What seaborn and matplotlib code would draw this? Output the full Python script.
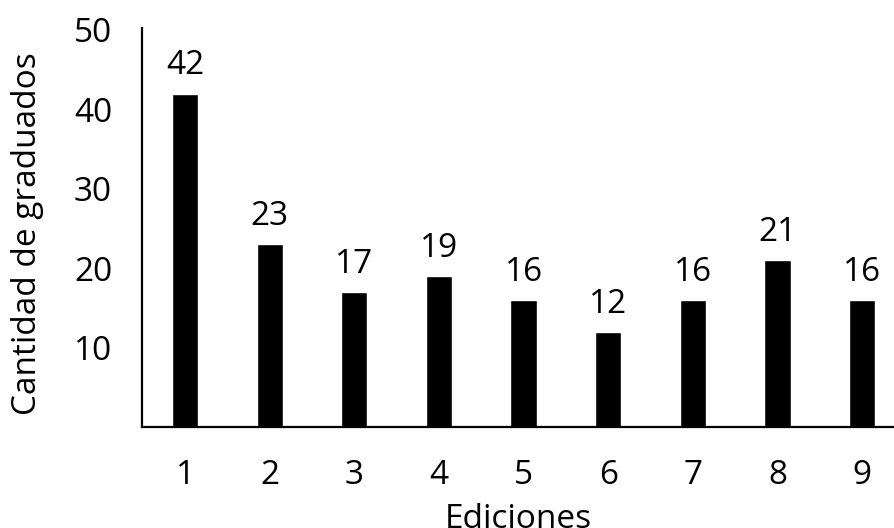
import matplotlib
matplotlib.use("Agg")
import matplotlib.pyplot as plt
import seaborn as sns
import pandas as pd

# Graduates per edition
ediciones = ["1", "2", "3", "4", "5", "6", "7", "8", "9"]
graduados = [42, 23, 17, 19, 16, 12, 16, 21, 16]
y_ticks = [10, 20, 30, 40, 50]

sns.set_theme(style="white")
plt.rcParams["font.family"] = ["Open Sans", "DejaVu Sans"]

FS = 24

df = pd.DataFrame({"Ediciones": ediciones, "Cantidad de graduados": graduados})

fig = plt.figure(figsize=(8.95, 5.28), dpi=100)
ax = fig.add_axes([142 / 895, 101 / 528, 753 / 895, 399 / 528])

sns.barplot(data=df, x="Ediciones", y="Cantidad de graduados", color="black",
            width=0.31, saturation=1, ax=ax)

ax.set_xlim(-0.51, 8.39)
ax.set_ylim(0, 50.25)
ax.set_yticks(y_ticks)
ax.tick_params(axis="both", length=0, labelsize=FS, colors="black")
ax.tick_params(axis="y", pad=21.5)
ax.tick_params(axis="x", pad=23)

for side in ["top", "right"]:
    ax.spines[side].set_visible(False)
for side in ["left", "bottom"]:
    ax.spines[side].set_color("black")
    ax.spines[side].set_linewidth(1.6)

ax.bar_label(ax.containers[0], labels=[str(v) for v in graduados],
             padding=8, fontsize=FS, color="black")

ax.set_xlabel("Ediciones", fontsize=FS, color="black", labelpad=8)
ax.set_ylabel("Cantidad de graduados", fontsize=FS, color="black")
ax.yaxis.set_label_coords(-0.130, 0.484)

fig.savefig("out.png", dpi=100)
